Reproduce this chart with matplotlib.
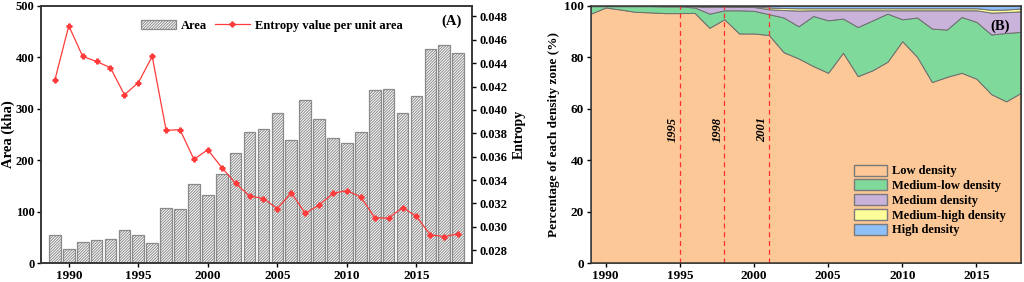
import numpy as np
import matplotlib
matplotlib.use("Agg")
import matplotlib.pyplot as plt
from matplotlib.patches import Patch

plt.rcParams['font.family'] = ['Liberation Serif', 'DejaVu Serif']
plt.rcParams['font.weight'] = 'bold'
plt.rcParams['hatch.color'] = '#555555'
plt.rcParams['hatch.linewidth'] = 0.7

years = list(range(1989, 2019))

# panel A
area = [55, 27, 41, 44, 47, 65, 55, 40, 108, 105, 153, 133, 173, 214, 254, 261, 292,
        240, 318, 280, 243, 234, 254, 336, 338, 291, 325, 417, 424, 409]
entropy = [0.04256, 0.0472, 0.04458, 0.04415, 0.04361, 0.0413, 0.04233, 0.04458,
           0.03826, 0.03831, 0.03578, 0.0366, 0.03507, 0.03373, 0.03264, 0.03242,
           0.03156, 0.03293, 0.03116, 0.03187, 0.03287, 0.0331, 0.03256, 0.03079,
           0.03074, 0.03165, 0.0309, 0.02931, 0.02917, 0.0294]

# panel B (percent)
low = [97.0, 99.4, 98.6, 97.7, 97.5, 97.2, 97.2, 97.3, 91.5, 94.8, 89.3, 89.3, 88.7,
       82.0, 79.6, 76.6, 74.0, 81.8, 72.7, 75.0, 78.3, 86.3, 80.2, 70.4, 72.4, 74.0,
       71.7, 65.7, 62.9, 66.2]
med_low = [2.9, 0.5, 1.3, 2.2, 2.4, 2.6, 2.6, 2.1, 5.5, 3.5, 9.0, 8.8, 8.1, 13.5, 12.5,
           19.5, 20.4, 13.3, 19.1, 19.4, 18.7, 8.5, 15.3, 20.8, 18.4, 21.7, 22.1, 23.2,
           26.6, 23.7]
med = [0.1, 0.1, 0.1, 0.1, 0.1, 0.2, 0.2, 0.5, 2.6, 1.3, 1.4, 1.5, 1.9, 2.9, 6.1, 2.2,
       3.9, 3.2, 6.5, 3.9, 1.3, 3.5, 2.8, 7.1, 7.5, 2.6, 4.5, 8.5, 8.1, 8.0]
med_high = [0.0, 0.0, 0.0, 0.0, 0.0, 0.0, 0.0, 0.0, 0.1, 0.1, 0.1, 0.2, 0.7, 0.8, 0.9,
            0.8, 0.8, 0.8, 0.8, 0.8, 0.8, 0.8, 0.8, 0.8, 0.8, 0.8, 0.8, 1.1, 1.0, 1.1]
high = [0.0, 0.0, 0.0, 0.0, 0.0, 0.0, 0.0, 0.1, 0.3, 0.3, 0.2, 0.2, 0.6, 0.8, 0.9, 0.9,
        0.9, 0.9, 0.9, 0.9, 0.9, 0.9, 0.9, 0.9, 0.9, 0.9, 0.9, 1.5, 1.4, 1.0]
zone_names = ['Low density', 'Medium-low density', 'Medium density',
              'Medium-high density', 'High density']
zone_colors = ['#fdc897', '#7ed99a', '#c9b3da', '#ffff99', '#8fbff7']
marks = [1995, 1998, 2001]

fig = plt.figure(figsize=(10.24, 2.82), dpi=100)

# ---- (A)
ax = fig.add_axes([0.040, 0.067, 0.421, 0.912])
ax.bar(years, area, width=0.84, color='white', edgecolor='#8a8a8a', hatch='////////////',
       linewidth=0.9, label='Area')
ax.set_xlim(1988, 2019)
ax.set_ylim(0, 500)
ax.set_yticks(range(0, 501, 100))
ax.set_xticks([1990, 1995, 2000, 2005, 2010, 2015])
ax.set_ylabel('Area (kha)', fontsize=10.5, fontweight='bold', labelpad=1)
ax.tick_params(axis='x', labelsize=9.5, direction='out', length=3, width=1, pad=2)
ax.tick_params(axis='y', labelsize=9, direction='out', length=3, width=1, pad=1.5)
ax2 = ax.twinx()
ax2.plot(years, entropy, color='#ff3b3b', lw=0.9, marker='P', ms=3.5,
         label='Entropy value per unit area')
ax2.set_ylim(0.0269, 0.0489)
ax2.set_yticks(np.arange(0.028, 0.0481, 0.002))
ax2.set_yticklabels(['%.3f' % v for v in np.arange(0.028, 0.0481, 0.002)])
ax2.set_ylabel('Entropy', fontsize=10, fontweight='bold', labelpad=4)
ax2.tick_params(labelsize=9, direction='out', length=3, width=1, pad=2)
for a in (ax, ax2):
    for s in a.spines.values():
        s.set_linewidth(1.1)
        s.set_color('#333333')
h1, l1 = ax.get_legend_handles_labels()
h2, l2 = ax2.get_legend_handles_labels()
ax2.legend(h1 + h2, l1 + l2, loc='upper center', bbox_to_anchor=(0.535, 0.99), ncol=2,
           frameon=False, fontsize=9, handlelength=2.8, columnspacing=0.6,
           handletextpad=0.4)
ax.text(0.975, 0.94, '(A)', transform=ax.transAxes, ha='right', va='center',
        fontsize=10.5, fontweight='bold')

# ---- (B)
bx = fig.add_axes([0.577, 0.067, 0.420, 0.912])
bx.stackplot(years, low, med_low, med, med_high, high, colors=zone_colors,
             edgecolor='#6e6e6e', linewidth=0.7, labels=zone_names)
for yr in marks:
    bx.axvline(yr, color='#ff3030', ls=(0, (4, 3)), lw=0.9)
    bx.text(yr - 0.45, 52, str(yr), rotation=90, ha='center', va='center',
            fontsize=9, fontweight='bold', style='italic')
bx.set_xlim(1989, 2018)
bx.set_ylim(0, 100)
bx.set_xticks([1990, 1995, 2000, 2005, 2010, 2015])
bx.set_ylabel('Percentage of each density zone (%)', fontsize=9.5, fontweight='bold',
              labelpad=3)
bx.tick_params(labelsize=9.5, direction='out', length=3, width=1, pad=2)
for s in bx.spines.values():
    s.set_linewidth(1.1)
    s.set_color('#333333')
handles = [Patch(facecolor=c, edgecolor='#7a7a7a', label=n)
           for c, n in zip(zone_colors, zone_names)]
bx.legend(handles=handles, loc='lower right', bbox_to_anchor=(0.99, 0.06),
          frameon=False, fontsize=9, handlelength=2.6, handleheight=1.0,
          labelspacing=0.15, handletextpad=0.4)
bx.text(0.975, 0.92, '(B)', transform=bx.transAxes, ha='right', va='center',
        fontsize=10.5, fontweight='bold')

fig.savefig('out.png', dpi=100)
